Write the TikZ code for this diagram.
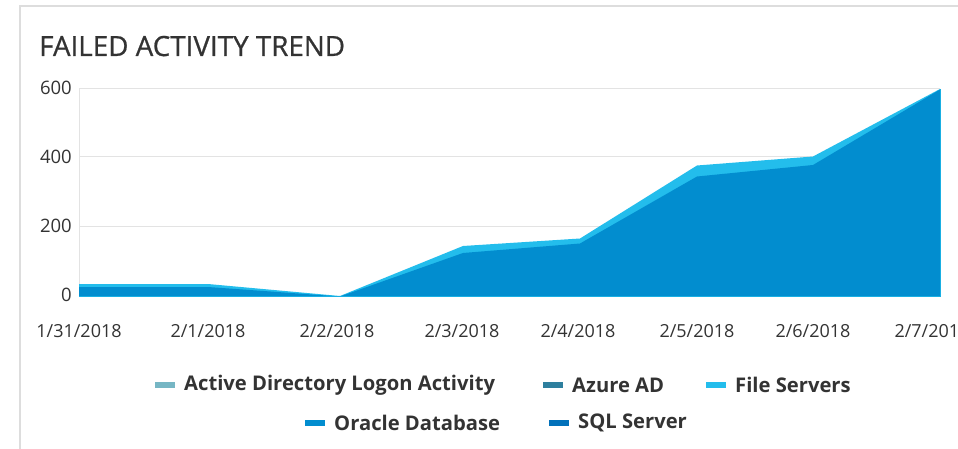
\documentclass[tikz,border=0pt]{standalone}
\usepackage{fontspec}
\setmainfont{Open Sans}
\newfontfamily\titlefont[FakeBold=0.7]{Open Sans}
\definecolor{cardline}{HTML}{DDDDDD}
\definecolor{gridc}{HTML}{E3E3E3}
\definecolor{txt}{HTML}{333333}
\definecolor{adc}{HTML}{76B6C4}
\definecolor{azc}{HTML}{2E7F9E}
\definecolor{fsc}{HTML}{23BDEC}
\definecolor{orc}{HTML}{028DCF}
\definecolor{sqc}{HTML}{0271BA}
\begin{document}
\begin{tikzpicture}[x=1pt,y=-1pt,
  ylab/.style={anchor=east,font=\fontsize{18.5}{20}\selectfont,text=txt,inner sep=0pt},
  xlab/.style={anchor=center,font=\fontsize{18}{20}\selectfont,text=txt,inner sep=0pt},
  legtxt/.style={anchor=west,font=\fontsize{20.2}{22}\selectfont\bfseries,text=txt,inner sep=0pt},
  swatch/.style={minimum width=20pt,minimum height=6pt,inner sep=0pt,draw=none}]
\useasboundingbox (0,0) rectangle (958,449);
\fill[white] (0,0) rectangle (958,449);
% card border
\draw[cardline,line width=1.5pt] (20,449) -- (20,6) -- (958,6);
% title
\node[anchor=base west,inner sep=0pt,text=txt,font=\fontsize{27.8}{30}\titlefont] (title) at (39,56) {FAILED ACTIVITY TREND};
% grid
\foreach \yy in {88.5,157,226}{\draw[gridc,line width=1pt] (79,\yy) -- (940,\yy);}
\draw[gridc,line width=1pt] (79,88.5) -- (79,296);
% y labels
\node[ylab] (y600) at (72,88) {600};
\node[ylab] (y400) at (72,157) {400};
\node[ylab] (y200) at (72,226) {200};
\node[ylab] (y0) at (72,295) {0};
% areas
\fill[fsc] (79,296) -- (79,284) -- (208,284) -- (340,296) -- (463,246) -- (580,238.5) -- (697,165.5) -- (813,156.5) -- (940,89) -- (940,296) -- cycle;
\fill[orc] (79,296) -- (79,287) -- (208,287) -- (340,296.5) -- (463,253) -- (580,243.5) -- (697,176.5) -- (813,165) -- (940,89.5) -- (940,296) -- cycle;
\draw[fsc!70!orc,line width=1pt] (79,296.5) -- (940,296.5) -- (940,89.5);
% x labels
\node[xlab] (d1) at (79,331) {1/31/2018};
\node[xlab] (d2) at (208,331) {2/1/2018};
\node[xlab] (d3) at (337,331) {2/2/2018};
\node[xlab] (d4) at (462,331) {2/3/2018};
\node[xlab] (d5) at (578,331) {2/4/2018};
\node[xlab] (d6) at (697,331) {2/5/2018};
\node[xlab] (d7) at (813,331) {2/6/2018};
\node[xlab] (d8) at (932,331) {2/7/2018};
% legend
\node[swatch,fill=adc] (s1) at (165,385) {};
\node[legtxt] (l1) at (184,385) {Active Directory Logon Activity};
\node[swatch,fill=azc] (s2) at (553,385) {};
\node[legtxt] (l2) at (572,385) {Azure AD};
\node[swatch,fill=fsc] (s3) at (716,385) {};
\node[legtxt] (l3) at (735,385) {File Servers};
\node[swatch,fill=orc] (s4) at (315,423) {};
\node[legtxt] (l4) at (334,423) {Oracle Database};
\node[swatch,fill=sqc] (s5) at (559,423) {};
\node[legtxt] (l5) at (578,423) {SQL Server};
\end{tikzpicture}
\end{document}
